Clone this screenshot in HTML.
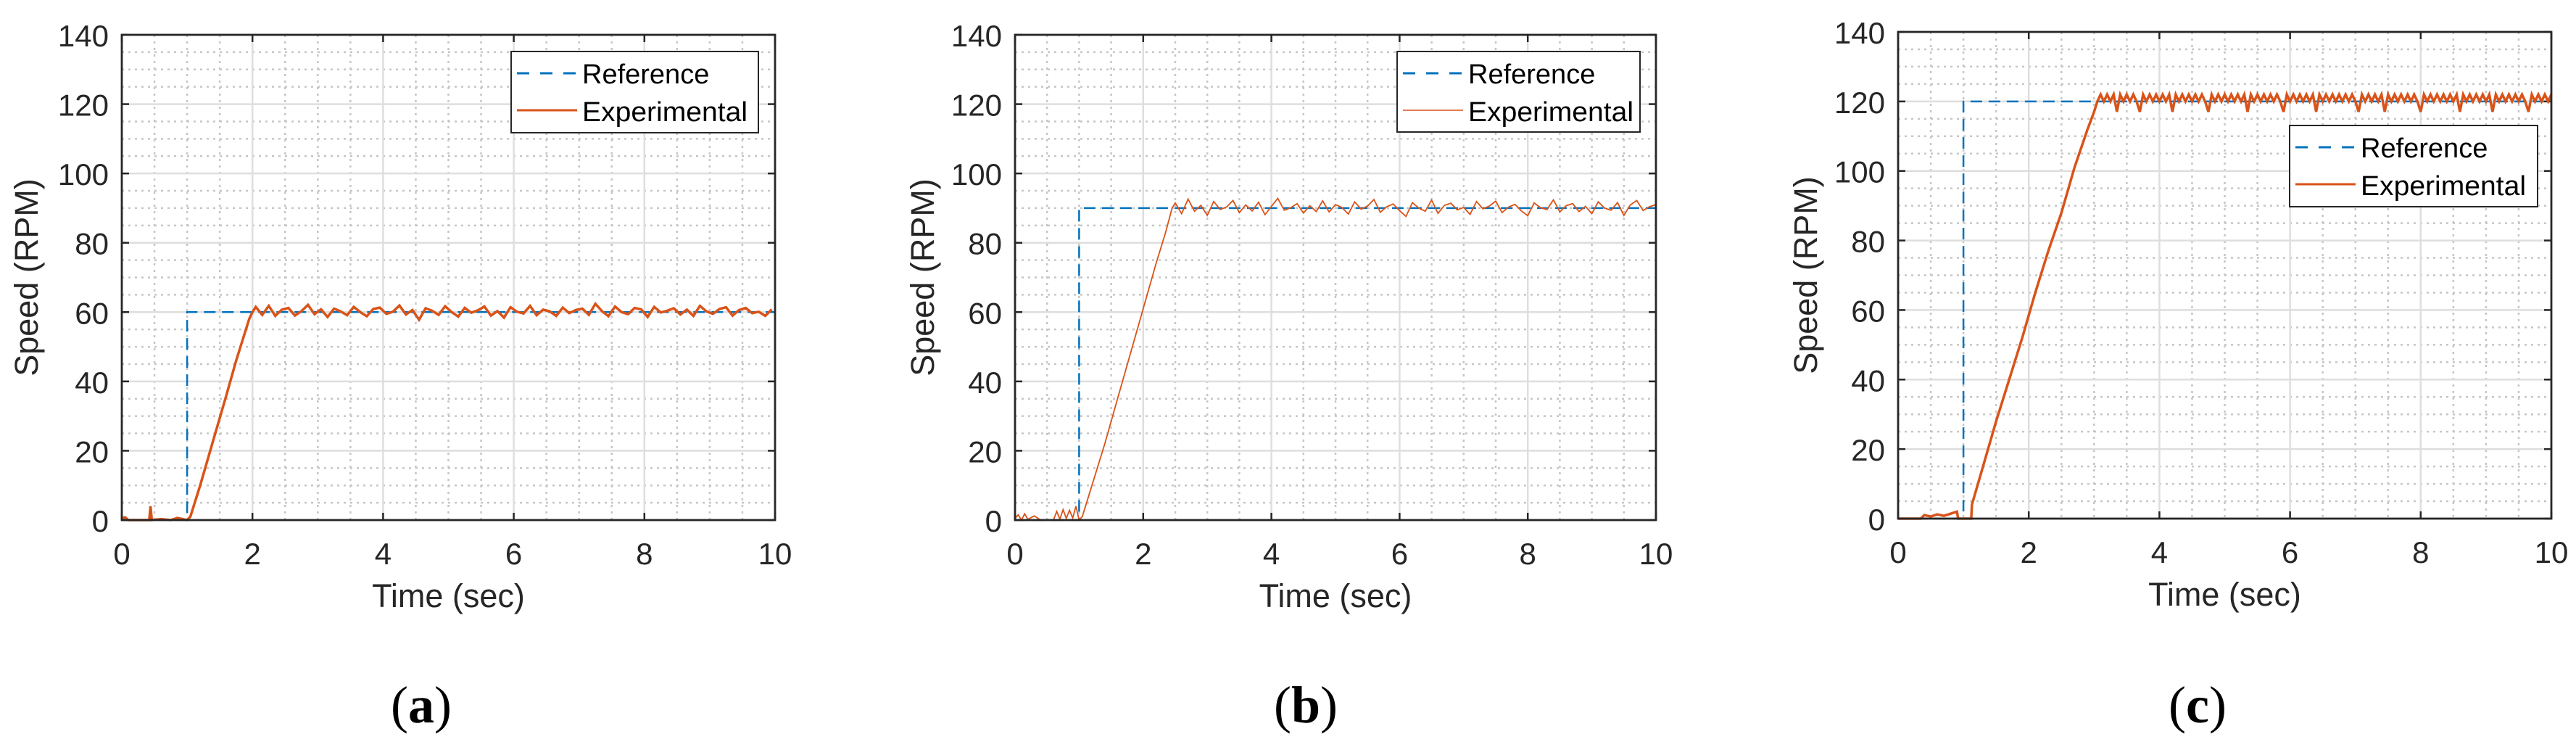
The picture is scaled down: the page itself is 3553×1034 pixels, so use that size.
<!DOCTYPE html>
<html><head><meta charset="utf-8"><style>
html,body{margin:0;padding:0;background:#fff;}
svg{display:block;}
text{font-family:"Liberation Sans",Arial,sans-serif;}
</style></head><body>
<svg id="fig" width="3553" height="1034" viewBox="0 0 3553 1034" xmlns="http://www.w3.org/2000/svg"></svg>
<script>
// ---------- data ----------
const xTicks = [0, 2, 4, 6, 8, 10];
const yTicks = [0, 20, 40, 60, 80, 100, 120, 140];
const panelLetters = ["a", "b", "c"];
const refLevels = [60, 90, 120];
const refStepTime = [1, 1, 1];

// panel a experimental (start-up + ramp)
const expTimeA = [0, 0.05, 0.1, 0.42, 0.44, 0.46, 0.6, 0.75, 0.85, 1.0, 1.05, 1.2, 1.4, 1.6, 1.75, 1.85, 1.95, 2.0];
const expValA  = [0.5, 0.8, 0, 0, 4, 0, 0.3, 0, 0.6, 0, 1, 10, 23, 36, 46, 52, 58, 60];
const steadyStartA = 2.05, steadyStepA = 0.1;
const steadyA = [61.5,59.2,61.8,58.9,60.7,61.2,59.0,60.3,62.1,59.4,60.8,58.6,61.0,60.2,59.1,61.5,60.0,58.8,60.9,61.3,59.5,60.1,61.9,59.3,60.6,57.8,61.1,60.4,59.2,61.7,60.0,58.7,61.2,59.8,60.5,61.6,59.0,60.3,58.4,61.4,60.1,59.6,61.8,59.1,60.7,60.2,58.9,61.3,59.7,60.6,61.0,59.2,62.4,60.3,58.8,61.6,60.0,59.4,61.2,60.8,58.6,61.5,59.9,60.4,61.1,59.3,60.7,58.9,61.8,60.2,59.5,60.9,61.4,59.0,60.6,61.2,59.7,60.1,58.9,60.8];

// panel b
const expTimeB = [0, 0.05, 0.1, 0.15, 0.2, 0.3, 0.4, 0.6, 0.65, 0.7, 0.75, 0.8, 0.85, 0.9, 0.95, 1.0, 1.05, 1.2, 1.4, 1.6, 1.8, 2.0, 2.2, 2.35, 2.45];
const expValB  = [0.5, 1.5, 0, 1.8, 0.2, 1.2, 0, 0, 2.5, 0.3, 3, 0.5, 2.8, 0.6, 4, 0, 1, 10, 22, 35, 48, 61, 74, 83, 90];
const steadyStartB = 2.5, steadyStepB = 0.1;
const steadyB = [91.5,88.4,92.6,89.1,90.8,87.9,91.9,89.6,90.3,92.2,88.7,90.9,89.2,91.7,88.1,90.5,92.8,89.4,90.1,91.3,88.6,90.7,89.0,92.1,88.9,91.0,90.2,88.3,91.8,89.7,90.6,92.5,88.8,90.4,91.2,89.3,87.6,91.6,90.0,89.1,92.3,88.5,90.8,91.4,89.5,90.2,88.2,91.9,89.8,90.6,92.0,88.7,90.3,91.1,89.2,87.8,91.5,90.1,89.6,92.4,88.9,90.7,91.3,89.0,90.5,88.4,91.8,90.0,89.4,91.6,87.9,90.9,92.2,89.3,90.4,91.0];

// panel c
const expTimeC = [0, 0.35, 0.4, 0.5, 0.6, 0.7, 0.8, 0.9, 0.92, 1.12, 1.13, 1.3, 1.5, 1.7, 1.9, 2.1, 2.3, 2.5, 2.7, 2.9, 3.0, 3.05];
const expValC  = [0, 0, 1, 0.6, 1.2, 0.8, 1.4, 2, 0, 0, 4, 15, 28, 40, 52, 65, 77, 88, 101, 112, 117, 120];
const steadyStartC = 3.1, steadyStepC = 0.05;
const steadyC = [122,120,122,120,122,117,122,120,122,120,122,120,117,122,120,122,120,122,120,122,120,122,117,122,120,122,120,122,120,122,120,122,120,117,122,120,122,120,122,120,122,120,122,120,122,117,122,120,122,120,122,120,122,120,122,120,117,122,120,122,120,122,120,122,120,122,117,122,120,122,120,122,120,122,120,122,120,122,120,117,122,120,122,120,122,120,122,117,122,120,122,120,122,120,122,120,122,120,117,122,120,122,120,122,120,122,120,122,120,122,117,122,120,122,120,122,120,122,120,122,117,122,120,122,120,122,120,122,120,122,120,117,122,120,122,120,122,120,122];

// ---------- layout ----------
const panels = [
  {L:168, R:1069, T:48, B:717, exp:[expTimeA, expValA, steadyStartA, steadyStepA, steadyA], ew:3.5, lw:3,
   leg:{x:705, y:71, w:341, h:112}, ylabX:52, capX:581},
  {L:1400, R:2284, T:48, B:717, exp:[expTimeB, expValB, steadyStartB, steadyStepB, steadyB], ew:1.8, lw:1.6,
   leg:{x:1927, y:71, w:335, h:111}, ylabX:1288, capX:1801},
  {L:2618, R:3519, T:44, B:715, exp:[expTimeC, expValC, steadyStartC, steadyStepC, steadyC], ew:3.5, lw:3,
   leg:{x:3158, y:173, w:342, h:112}, ylabX:2506, capX:3031}
];
const NS = "http://www.w3.org/2000/svg";
const svg = document.getElementById("fig");
function mk(tag, attrs, parent){
  const e = document.createElementNS(NS, tag);
  for (const k in attrs) e.setAttribute(k, attrs[k]);
  (parent||svg).appendChild(e);
  return e;
}
panels.forEach((p, pi) => {
  const g = mk("g", {});
  
  
  const sx = v => p.L + (v - 0) / 10 * (p.R - p.L);
  const sy = v => p.B - v / 140 * (p.B - p.T);
  for (let k = 1; k < 20; k++) {
    if (k % 4 === 0) continue;
    const l = mk("line", {x1:sx(k*0.5), x2:sx(k*0.5), y1:p.T, y2:p.B, stroke:"#c6c6c6", "stroke-width":2.5, "stroke-dasharray":"3 6"}, g);
    
    
  }
  for (let k = 1; k < 28; k++) {
    if (k % 4 === 0) continue;
    const l = mk("line", {x1:p.L, x2:p.R, y1:sy(k*5), y2:sy(k*5), stroke:"#c6c6c6", "stroke-width":2.5, "stroke-dasharray":"3 6"}, g);
    
    
  }
  xTicks.forEach(t => {
    if (t > 0 && t < 10) {
      const l = mk("line", {x1:sx(t), x2:sx(t), y1:p.T, y2:p.B, stroke:"#dedede", "stroke-width":2.5}, g);
      
      
    }
    mk("line", {x1:sx(t), x2:sx(t), y1:p.B, y2:p.B-10, stroke:"#262626", "stroke-width":2.5}, g);
    mk("line", {x1:sx(t), x2:sx(t), y1:p.T, y2:p.T+10, stroke:"#262626", "stroke-width":2.5}, g);
    const tx = mk("text", {x:sx(t), y:p.B+61, "font-size":42, fill:"#262626", "text-anchor":"middle"}, g);
    tx.textContent = String(t);
    
    
  });
  yTicks.forEach(t => {
    if (t > 0 && t < 140) {
      const l = mk("line", {x1:p.L, x2:p.R, y1:sy(t), y2:sy(t), stroke:"#dedede", "stroke-width":2.5}, g);
      
      
    }
    mk("line", {x1:p.L, x2:p.L+10, y1:sy(t), y2:sy(t), stroke:"#262626", "stroke-width":2.5}, g);
    mk("line", {x1:p.R, x2:p.R-10, y1:sy(t), y2:sy(t), stroke:"#262626", "stroke-width":2.5}, g);
    const tx = mk("text", {x:p.L-18, y:sy(t)+16, "font-size":42, fill:"#262626", "text-anchor":"end"}, g);
    tx.textContent = String(t);
    
    
  });
  const lvl = refLevels[pi], st = refStepTime[pi];
  const ref = mk("polyline", {points:`${sx(0)},${sy(0)} ${sx(st)},${sy(0)} ${sx(st)},${sy(lvl)} ${sx(10)},${sy(lvl)}`,
    fill:"none", stroke:"#0072BD", "stroke-width":2.5, "stroke-dasharray":"16 9"}, g);
  
  
  const [et, ev, s0, ds, sv] = p.exp;
  const pts = [];
  et.forEach((t, i) => pts.push(sx(t).toFixed(1) + "," + sy(ev[i]).toFixed(1)));
  sv.forEach((v, i) => { const t = Math.min(10, s0 + i*ds); pts.push(sx(t).toFixed(1) + "," + sy(v).toFixed(1)); });
  const ex = mk("polyline", {points:pts.join(" "), fill:"none", stroke:"#D95319", "stroke-width":p.ew, "stroke-linejoin":"miter"}, g);
  
  
  const box = mk("rect", {x:p.L, y:p.T, width:p.R-p.L, height:p.B-p.T, fill:"none", stroke:"#262626", "stroke-width":2.8}, g);
  
  
  const lg = p.leg;
  const leg = mk("g", {}, g);
  
  
  mk("rect", {x:lg.x, y:lg.y, width:lg.w, height:lg.h, fill:"#fff", stroke:"#262626", "stroke-width":2}, leg);
  mk("line", {x1:lg.x+8, x2:lg.x+91, y1:lg.y+30, y2:lg.y+30, stroke:"#0072BD", "stroke-width":3, "stroke-dasharray":"17 15"}, leg);
  mk("line", {x1:lg.x+8, x2:lg.x+91, y1:lg.y+81, y2:lg.y+81, stroke:"#D95319", "stroke-width":p.lw}, leg);
  const t1 = mk("text", {x:lg.x+98, y:lg.y+44, "font-size":38, fill:"#000"}, leg);
  t1.textContent = "Reference";
  
  
  const t2 = mk("text", {x:lg.x+98, y:lg.y+96, "font-size":38, fill:"#000", textLength:228, lengthAdjust:"spacingAndGlyphs"}, leg);
  t2.textContent = "Experimental";
  
  
  const xl = mk("text", {x:(p.L+p.R)/2, y:p.B+120, "font-size":45, fill:"#262626", "text-anchor":"middle"}, g);
  xl.textContent = "Time (sec)";
  
  
  const yc = (p.T+p.B)/2;
  const yl = mk("text", {x:p.ylabX, y:yc, "font-size":45, fill:"#262626", "text-anchor":"middle", transform:`rotate(-90 ${p.ylabX} ${yc})`}, g);
  yl.textContent = "Speed (RPM)";
  
  
  const cap = mk("text", {x:p.capX, y:996, "font-size":72, fill:"#000", "text-anchor":"middle", style:'font-family:"Liberation Serif",serif'}, g);
  
  
  cap.appendChild(document.createTextNode("("));
  const b = mk("tspan", {"font-weight":"bold"}, cap);
  b.textContent = panelLetters[pi];
  cap.appendChild(document.createTextNode(")"));
});
</script>
</body></html>
